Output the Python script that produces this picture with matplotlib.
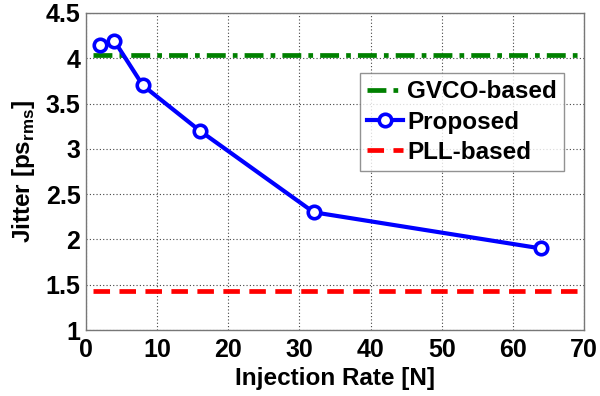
import matplotlib
matplotlib.use("Agg")
import matplotlib.pyplot as plt

plt.rcParams['font.family'] = ['Liberation Sans', 'DejaVu Sans']
plt.rcParams['font.weight'] = 'bold'
plt.rcParams['mathtext.fontset'] = 'custom'
plt.rcParams['mathtext.bf'] = 'Liberation Sans:bold'
plt.rcParams['mathtext.rm'] = 'Liberation Sans:bold'

# Data
injection_rate = [2, 4, 8, 16, 32, 64]
jitter_proposed = [4.15, 4.19, 3.70, 3.20, 2.30, 1.90]
ref_x = [1, 70]
jitter_gvco = 4.04
jitter_pll = 1.43

fig = plt.figure(figsize=(6.0, 3.96), dpi=100)
ax = fig.add_axes([86/600, 1 - 330/396, (584-86)/600, (330-13)/396])

ax.plot(ref_x, [jitter_gvco]*2, color='#008000', lw=3.4, linestyle=(0, (4, 1.5, 1, 1.5)),
        label='GVCO-based')
ax.plot(injection_rate, jitter_proposed, color='#0000ff', lw=3.0, marker='o', ms=9,
        mfc='white', mec='#0000ff', mew=2.6, label='Proposed')
ax.plot(ref_x, [jitter_pll]*2, color='#ff0000', lw=3.4, linestyle=(0, (3.5, 2)),
        label='PLL-based')

ax.set_xlim(0, 70)
ax.set_ylim(1, 4.5)
ax.set_xticks(range(0, 71, 10))
ax.set_yticks([1, 1.5, 2, 2.5, 3, 3.5, 4, 4.5])
ax.set_yticklabels(['1', '1.5', '2', '2.5', '3', '3.5', '4', '4.5'])
ax.tick_params(labelsize=18, length=0)
ax.tick_params(axis='x', pad=6)
ax.tick_params(axis='y', pad=4)
for lab in ax.get_xticklabels() + ax.get_yticklabels():
    lab.set_fontweight('bold')
ax.grid(True, color='#444444', linestyle=(0, (1, 2)), linewidth=0.8)
for s in ax.spines.values():
    s.set_color('#777777')
    s.set_linewidth(1.0)

ax.set_xlabel('Injection Rate [N]', fontsize=17.5, fontweight='bold', labelpad=3)
ax.set_ylabel(r'Jitter [ps$_{\mathbf{rms}}$]', fontsize=17.5, fontweight='bold', labelpad=6)

leg = ax.legend(loc='upper left', bbox_to_anchor=((360-86)/498, 1 - (73-13)/317),
                fontsize=17.5, frameon=True, fancybox=False, edgecolor='#777777',
                handlelength=1.45, handletextpad=0.2, borderpad=0.3, labelspacing=0.3,
                borderaxespad=0)
leg.get_frame().set_linewidth(1.0)
for t in leg.get_texts():
    t.set_fontweight('bold')

fig.savefig('out.png', dpi=100)
